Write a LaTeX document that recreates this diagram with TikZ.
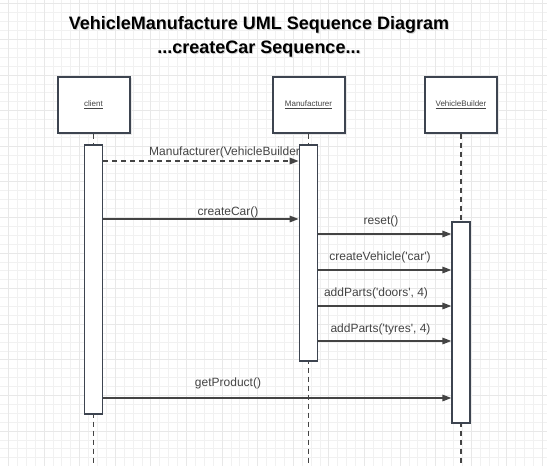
\documentclass[tikz,border=0pt]{standalone}
\usepackage{fontspec}
\setmainfont{Liberation Sans}[Ligatures=TeXOff]
\usetikzlibrary{arrows.meta}
\definecolor{gridminor}{HTML}{F1F1F1}
\definecolor{gridmajor}{HTML}{E8E8E8}
\definecolor{boxline}{HTML}{3D4450}
\definecolor{arrowc}{HTML}{444444}
\tikzset{
  objbox/.style={draw=boxline, line width=2pt, fill=white, minimum width=72pt, minimum height=56pt, inner sep=0pt, font=\fontsize{8}{9}\selectfont, text=arrowc},
  actbar/.style={draw=boxline, line width=1.2pt, fill=white},
  lifeline/.style={draw=arrowc, line width=1.2pt, dash pattern=on 5pt off 4pt},
  msg/.style={draw=arrowc, line width=1.5pt, -{Triangle[length=9pt,width=6.5pt]}},
  dmsg/.style={msg, dash pattern=on 5pt off 4pt},
  lbl/.style={font=\fontsize{12}{14}\selectfont, text=arrowc, inner sep=0pt, anchor=base},
  ttl/.style={font=\bfseries\fontsize{18}{21}\selectfont, inner sep=0pt, anchor=base},
  shd/.style={fill=black!9}
}
\begin{document}
\begin{tikzpicture}[x=1pt,y=-1pt]
\useasboundingbox (0,0) rectangle (547,466);
\fill[white] (0,0) rectangle (547,466);
% grid
\foreach \i in {0,...,61} {
  \pgfmathsetmacro{\gx}{8.3+8.9*\i}
  \draw[gridminor, line width=0.6pt] (\gx,0) -- (\gx,466);
}
\foreach \i in {0,...,52} {
  \pgfmathsetmacro{\gy}{3.7+8.9*\i}
  \draw[gridminor, line width=0.6pt] (0,\gy) -- (547,\gy);
}
\foreach \i in {0,...,15} {
  \pgfmathsetmacro{\gx}{8.3+35.6*\i}
  \draw[gridmajor, line width=0.8pt] (\gx,0) -- (\gx,466);
}
\foreach \i in {0,...,13} {
  \pgfmathsetmacro{\gy}{3.7+35.6*\i}
  \draw[gridmajor, line width=0.8pt] (0,\gy) -- (547,\gy);
}
% title
\node[ttl, text=black!30, opacity=0.6] (t1s) at (260,30.3) {VehicleManufacture UML Sequence Diagram};
\node[ttl] (t1) at (259,29) {VehicleManufacture UML Sequence Diagram};
\node[ttl, text=black!30, opacity=0.6] (t2s) at (260,54.3) {...createCar Sequence...};
\node[ttl] (t2) at (259,53) {...createCar Sequence...};
% lifeline ends
\coordinate (cEnd) at (93.5,466);
\coordinate (mEnd) at (308.5,466);
\coordinate (vEnd) at (461,466);
% object box shadows
\fill[shd] (58.5,77.5) rectangle (131.5,134.5);
\fill[shd] (273.5,77.5) rectangle (346.5,134.5);
\fill[shd] (426,77.5) rectangle (499,134.5);
\node[objbox] (client) at (93.5,104.5) {\underline{client}};
\node[objbox] (manu) at (308.5,104.5) {\underline{Manufacturer}};
\node[objbox] (vb) at (461,104.5) {\underline{VehicleBuilder}};
% lifelines
\draw[lifeline] (client.south) -- (cEnd);
\draw[lifeline] (manu.south) -- (mEnd);
\draw[lifeline] (vb.south) -- (vEnd);
% label partly hidden by the bar
\node[lbl, anchor=base west] (l1) at (149,155) {Manufacturer(VehicleBuilder};
% activation bars
\node[actbar, minimum width=18pt, minimum height=269pt, inner sep=0pt] (cact) at (93.5,279.5) {};
\node[actbar, minimum width=18.5pt, minimum height=216pt, inner sep=0pt] (mact) at (308.5,253) {};
\node[actbar, minimum width=18pt, minimum height=201pt, inner sep=0pt] (vact) at (461,322.5) {};
% messages
\draw[dmsg] (cact.east |- 0,161) -- (mact.west |- 0,161);
\draw[msg] (cact.east |- 0,219) -- (mact.west |- 0,219);
\node[lbl] (l2) at (228,215) {createCar()};
\draw[msg] (mact.east |- 0,234) -- (vact.west |- 0,234);
\node[lbl] (l3) at (381,224.5) {reset()};
\draw[msg] (mact.east |- 0,270) -- (vact.west |- 0,270);
\node[lbl] (l4) at (380,260.5) {createVehicle('car')};
\draw[msg] (mact.east |- 0,306) -- (vact.west |- 0,306);
\node[lbl] (l5) at (376,296.5) {addParts('doors', 4)};
\draw[msg] (mact.east |- 0,341) -- (vact.west |- 0,341);
\node[lbl] (l6) at (380.5,332) {addParts('tyres', 4)};
\draw[msg] (cact.east |- 0,398) -- (vact.west |- 0,398);
\node[lbl] (l7) at (228,386) {getProduct()};
\end{tikzpicture}
\end{document}
